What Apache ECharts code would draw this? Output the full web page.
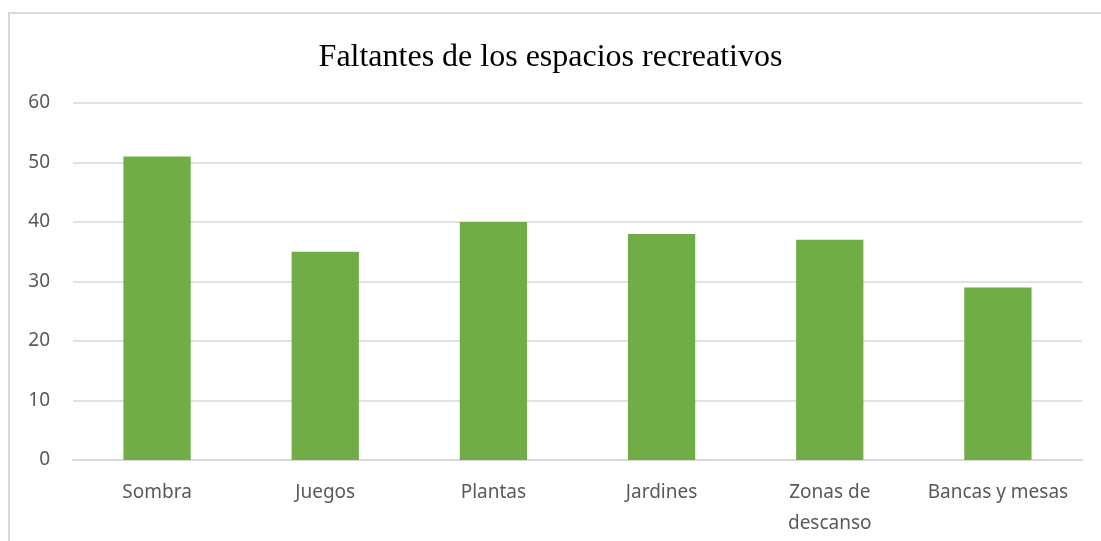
<!DOCTYPE html>
<html>
<head>
<meta charset="utf-8">
<script src="https://cdn.jsdelivr.net/npm/echarts@6/dist/echarts.min.js"></script>
<style>
  html, body { margin: 0; padding: 0; background: #fff; }
  .chart { width: 1101px; height: 541px; }
</style>
</head>
<body>
<div class="chart" id="main"></div>
<script>
// datos
const categorias = ['Sombra', 'Juegos', 'Plantas', 'Jardines', 'Zonas de\ndescanso', 'Bancas y mesas'];
const valores = [51, 35, 40, 38, 37, 29];
const ejeY = { min: 0, max: 60, interval: 10 };

const chart = echarts.init(document.getElementById('main'));
const option = {
  animation: false,
  backgroundColor: '#fff',
  graphic: [{
    type: 'rect',
    shape: { x: 9, y: 13, width: 1200, height: 600 },
    style: { fill: 'none', stroke: '#d9d9d9', lineWidth: 2 },
    silent: true
  }],
  title: {
    text: 'Faltantes de los espacios recreativos',
    left: 'center',
    top: 37,
    textStyle: {
      fontFamily: 'Liberation Serif',
      fontWeight: 'normal',
      fontSize: 32,
      color: '#000'
    }
  },
  grid: { left: 73, right: 19, top: 103, bottom: 81 },
  xAxis: {
    type: 'category',
    data: categorias,
    axisLine: { lineStyle: { color: '#d9d9d9', width: 2 } },
    axisTick: { show: false },
    axisLabel: {
      color: '#595959',
      fontFamily: 'Noto Sans',
      fontSize: 19,
      lineHeight: 31,
      margin: 17,
      interval: 0
    }
  },
  yAxis: {
    type: 'value',
    min: ejeY.min,
    max: ejeY.max,
    interval: ejeY.interval,
    axisLine: { show: false },
    axisTick: { show: false },
    splitLine: { lineStyle: { color: '#d9d9d9', width: 1.5 } },
    axisLabel: {
      color: '#595959',
      fontFamily: 'Noto Sans',
      fontSize: 19,
      margin: 23
    }
  },
  series: [{
    type: 'bar',
    data: valores,
    barWidth: '40%',
    itemStyle: { color: '#70ad47' }
  }]
};
chart.setOption(option);
</script>
</body>
</html>
